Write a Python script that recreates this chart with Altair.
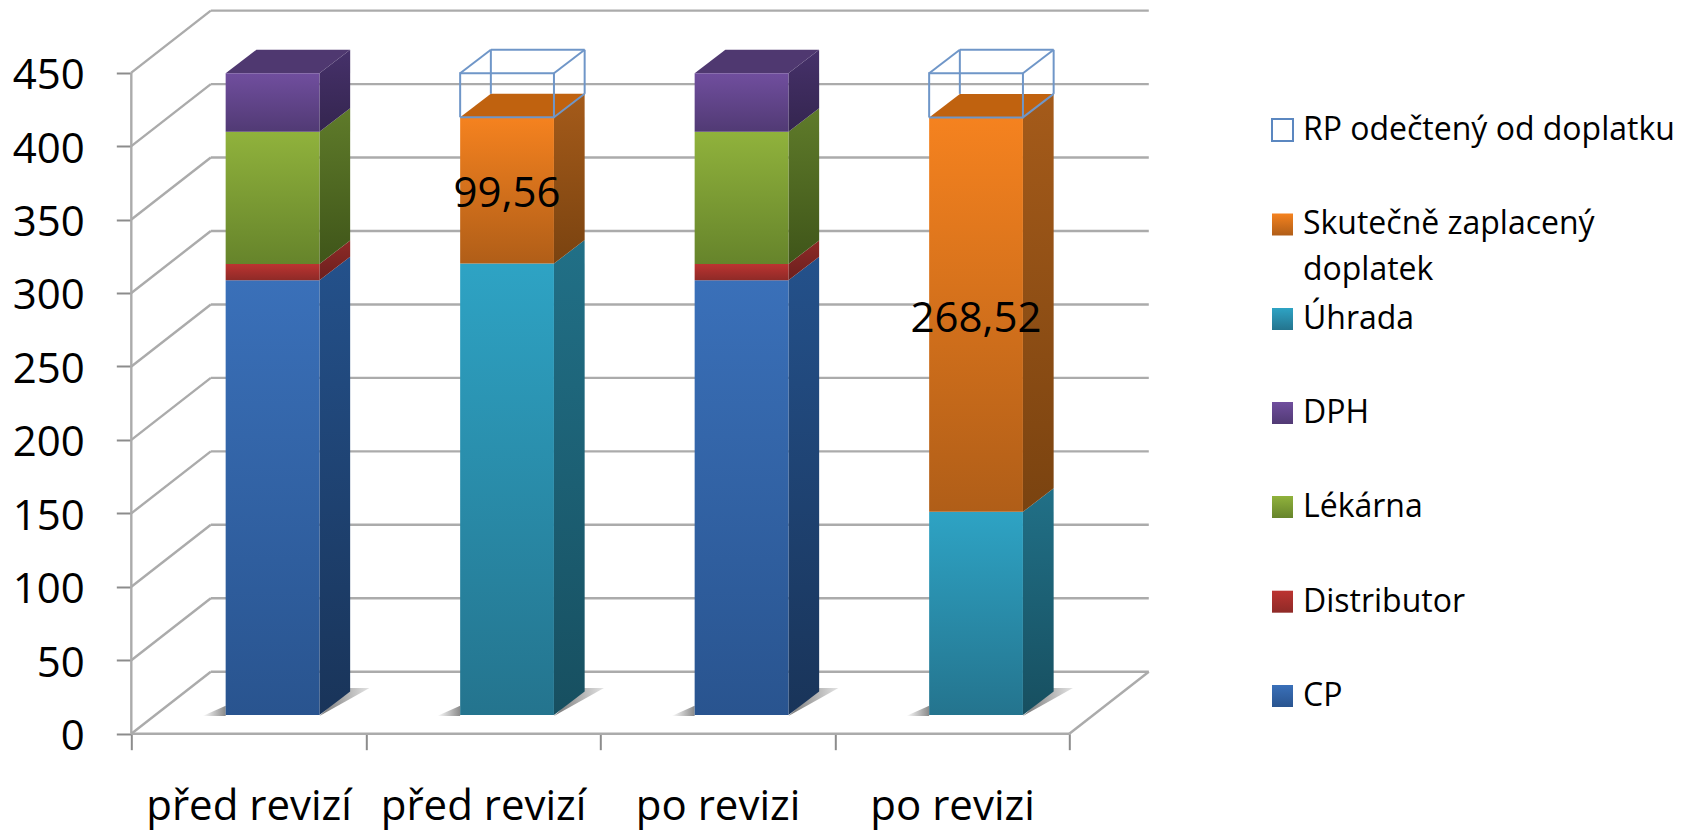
import altair as alt
import pandas as pd

categories = ["před revizí", "před revizí", "po revizi", "po revizi"]
series_names = ["CP", "Distributor", "Lékárna", "DPH", "Úhrada", "Skutečně zaplacený doplatek", "RP odečtený od doplatku"]
cp = [296, 0, 296, 0]
distributor = [11, 0, 11, 0]
lekarna = [90, 0, 90, 0]
dph = [39.8, 0, 39.8, 0]
uhrada = [0, 307.3, 0, 138.3]
doplatek = [0, 99.56, 0, 268.52]
rp = [0, 30, 0, 30]
value_ticks = [0, 50, 100, 150, 200, 250, 300, 350, 400, 450]
data_labels = ["", "99,56", "", "268,52"]
legend_order = ["RP odečtený od doplatku", "Skutečně zaplacený doplatek", "Úhrada", "DPH", "Lékárna", "Distributor", "CP"]

FONT = "Open Sans"
PX_X = 234.5          # pixels per category
PX_Y = 1.469          # pixels per value unit
WALL_DX, WALL_DY = 79.5 / PX_X, 62 / PX_Y
BAR_DX, BAR_DY = 24 / PX_X, 18.7 / PX_Y
SIDE_DX, SIDE_DY = 30.7 / PX_X, 23.5 / PX_Y
BAR_W = 0.4
PLOT_W, PLOT_H = 1545.7, 725.7
xscale = alt.Scale(domain=[0, PLOT_W / PX_X], nice=False, zero=False)
yscale = alt.Scale(domain=[0, PLOT_H / PX_Y], nice=False, zero=False)

def vgrad(top, bottom):
    return alt.Gradient(gradient="linear", x1=0, x2=0, y1=0, y2=1,
                        stops=[alt.GradientStop(color=top, offset=0), alt.GradientStop(color=bottom, offset=1)])

def hgrad(left, right):
    return alt.Gradient(gradient="linear", x1=0, x2=1, y1=0, y2=0,
                        stops=[alt.GradientStop(color=left, offset=0), alt.GradientStop(color=right, offset=1)])

styles = {
    "CP": ("#3a70b9", "#29548f", "#24518b", "#193459", "#24518b"),
    "Distributor": ("#bc3431", "#8e2a27", "#8e2a27", "#6b1f1d", "#8e2a27"),
    "Lékárna": ("#90b23c", "#66842b", "#5f7b2a", "#3f5519", "#5f7b2a"),
    "DPH": ("#704e9e", "#513a74", "#46316a", "#34254f", "#4f3870"),
    "Úhrada": ("#2ea3c4", "#24748e", "#217087", "#174f60", "#217087"),
    "Skutečně zaplacený doplatek": ("#f5821f", "#b05e18", "#a55b1a", "#7a4310", "#c0620f"),
}
stack_values = dict(zip(series_names, [cp, distributor, lekarna, dph, uhrada, doplatek, rp]))

def X(field="x"):
    return alt.X(field, type="quantitative", scale=xscale, axis=None)

def Y(field="y"):
    return alt.Y(field, type="quantitative", scale=yscale, axis=None)

# walls and floor
lines = []
def seg(rows, key, *pts):
    for n, (px_, py_) in enumerate(pts):
        rows.append({"key": key, "x": px_, "y": py_, "n": n})

for v in value_ticks:
    seg(lines, f"back{v}", (WALL_DX, v + WALL_DY), (4 + WALL_DX, v + WALL_DY))
    seg(lines, f"side{v}", (0, v), (WALL_DX, v + WALL_DY))
seg(lines, "floorfront", (0, 0), (4, 0))
seg(lines, "floorright", (4, 0), (4 + WALL_DX, WALL_DY))
seg(lines, "front", (0, 0), (0, 450))

xaxis = alt.Axis(values=[0, 1, 2, 3, 4], labelOffset=PX_X / 2, tickSize=16, tickColor="#8c8c8c", tickWidth=2,
                 domain=False, grid=False, title=None, labelFontSize=42, labelFont=FONT, labelColor="#000000",
                 labelPadding=37, labelOverlap=False, labelFlush=False, labelBound=False, labelLimit=400,
                 labelExpr="datum.value < 4 ? " + str(categories) + "[datum.value] : ''")
yaxis = alt.Axis(values=value_ticks, tickSize=15, tickColor="#8c8c8c", tickWidth=2, domain=False, grid=False,
                 title=None, labelFontSize=42, labelFont=FONT, labelColor="#000000", labelPadding=32, labelOffset=3,
                 labelOverlap=False)

layers = [
    alt.Chart(pd.DataFrame(lines)).mark_line(color="#ababab", strokeWidth=2.4).encode(
        x=alt.X("x", type="quantitative", scale=xscale, axis=xaxis),
        y=alt.Y("y", type="quantitative", scale=yscale, axis=yaxis),
        detail="key:N",
        order="n:Q",
    )
]

# stacked geometry
segments = []
for i in range(len(categories)):
    base = BAR_DY
    for name in series_names:
        val = stack_values[name][i]
        if val > 0:
            segments.append({"cat": i, "name": name, "x0": i + 0.3 + BAR_DX, "x1": i + 0.3 + BAR_DX + BAR_W,
                             "lo": base, "hi": base + val})
        base += val

# floor shadows
for i in range(len(categories)):
    x0, x1 = i + 0.3 + BAR_DX, i + 0.3 + BAR_DX + BAR_W
    b = BAR_DY - 0.7
    left = pd.DataFrame({"x": [x0 - 23 / PX_X, x0], "y": [b, b], "y2": [b, b + 7]})
    right = pd.DataFrame({"x": [x1, x1 + 30 / PX_X, x1 + 50 / PX_X], "y": [b, b + 11.4, b + 19], "y2": [b, b + 19, b + 19]})
    layers.append(alt.Chart(left).mark_area(color=hgrad("#ffffff", "#8a8a8a")).encode(x=X(), y=Y(), y2="y2"))
    layers.append(alt.Chart(right).mark_area(color=hgrad("#777777", "#e4e4e4")).encode(x=X(), y=Y(), y2="y2"))

# side and top faces, then front faces
for s in segments:
    c1, c2, c3, c4, c5 = styles.get(s["name"], (None,) * 5)
    if c1 is None:
        continue
    side = pd.DataFrame({"x": [s["x1"], s["x1"] + SIDE_DX], "y": [s["lo"], s["lo"] + SIDE_DY], "y2": [s["hi"], s["hi"] + SIDE_DY]})
    layers.append(alt.Chart(side).mark_area(color=vgrad(c3, c4)).encode(x=X(), y=Y(), y2="y2"))
    top_of_stack = not any(o["cat"] == s["cat"] and o["lo"] >= s["hi"] and o["name"] in styles for o in segments)
    if top_of_stack:
        top = pd.DataFrame({"x": [s["x0"], s["x0"] + SIDE_DX, s["x1"], s["x1"] + SIDE_DX],
                            "y": [s["hi"], s["hi"], s["hi"], s["hi"] + SIDE_DY],
                            "y2": [s["hi"], s["hi"] + SIDE_DY, s["hi"] + SIDE_DY, s["hi"] + SIDE_DY]})
        layers.append(alt.Chart(top).mark_area(color=c5).encode(x=X(), y=Y(), y2="y2"))

for name, (c1, c2, c3, c4, c5) in styles.items():
    rows = pd.DataFrame([s for s in segments if s["name"] == name])
    layers.append(alt.Chart(rows).mark_rect(color=vgrad(c1, c2)).encode(x=X("x0"), x2="x1", y=Y("lo"), y2="hi"))

# wireframe of the reference price
wire = []
for s in segments:
    if s["name"] != "RP odečtený od doplatku":
        continue
    a, b, lo, hi, k = s["x0"], s["x1"], s["lo"], s["hi"], s["cat"]
    seg(wire, f"{k}f", (a, lo), (a, hi), (b, hi), (b, lo), (a, lo))
    seg(wire, f"{k}back", (a + SIDE_DX, hi + SIDE_DY), (b + SIDE_DX, hi + SIDE_DY))
    seg(wire, f"{k}tl", (a, hi), (a + SIDE_DX, hi + SIDE_DY))
    seg(wire, f"{k}tr", (b, hi), (b + SIDE_DX, hi + SIDE_DY))
    seg(wire, f"{k}br", (b, lo), (b + SIDE_DX, lo + SIDE_DY))
    seg(wire, f"{k}vl", (a + SIDE_DX, lo + SIDE_DY), (a + SIDE_DX, hi + SIDE_DY))
    seg(wire, f"{k}vr", (b + SIDE_DX, lo + SIDE_DY), (b + SIDE_DX, hi + SIDE_DY))
layers.append(alt.Chart(pd.DataFrame(wire)).mark_line(color="#6f96c8", strokeWidth=2).encode(
    x=X(), y=Y(), detail="key:N", order="n:Q"))

# value labels
label_rows = []
for s in segments:
    if s["name"] == "Skutečně zaplacený doplatek" and data_labels[s["cat"]]:
        label_rows.append({"x": (s["x0"] + s["x1"]) / 2, "y": (s["lo"] + s["hi"]) / 2, "t": data_labels[s["cat"]]})
layers.append(alt.Chart(pd.DataFrame(label_rows)).mark_text(font=FONT, fontSize=42, color="#000000", baseline="middle", dy=4).encode(
    x=X(), y=Y(), text="t:N"))

# legend
ORIGIN_X, ORIGIN_Y = 131.3, 8
def px(v): return v - ORIGIN_X
def py(v): return v - ORIGIN_Y
legend_y = [130, 224.5, 319, 413, 507, 601.7, 696]
for name, cy in zip(legend_order, legend_y):
    one = pd.DataFrame({"t": [name]})
    box = alt.Chart(one)
    if name in styles:
        rect = box.mark_rect(color=vgrad(styles[name][0], styles[name][1]))
    else:
        rect = box.mark_rect(fill="#ffffff", stroke="#5b87c0", strokeWidth=2)
    layers.append(rect.encode(x=alt.value(px(1272)), x2=alt.value(px(1293)), y=alt.value(py(cy - 11)), y2=alt.value(py(cy + 11))))
    text = ["Skutečně zaplacený", "doplatek"] if name.startswith("Skute") else [name]
    for j, part in enumerate(text):
        layers.append(alt.Chart(pd.DataFrame({"t": [part]})).mark_text(
            font=FONT, fontSize=32, color="#000000", align="left", baseline="middle").encode(
            x=alt.value(px(1303)), y=alt.value(py(cy + j * 46)), text="t:N"))

chart = alt.layer(*layers).resolve_axis(x="independent", y="independent").properties(
    width=PLOT_W, height=PLOT_H,
    padding={"left": ORIGIN_X - 8, "top": 0, "right": 0, "bottom": 99},
    autosize=alt.AutoSizeParams(type="none"),
).configure_view(stroke=None)

chart.save("out.html", embed_options={"renderer": "svg", "actions": False})
